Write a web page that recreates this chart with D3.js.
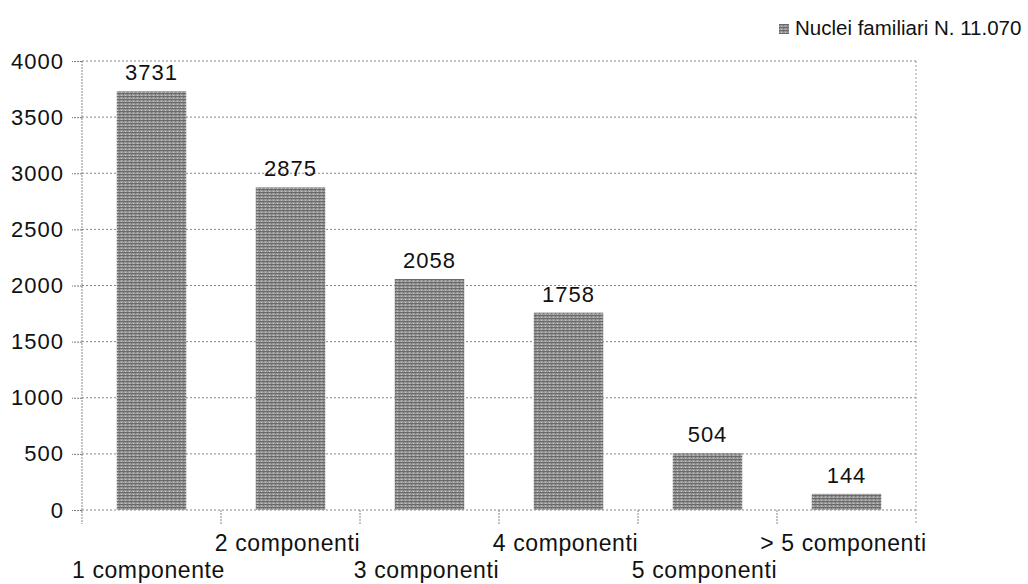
<!DOCTYPE html>
<html><head><meta charset="utf-8">
<script src="https://cdn.jsdelivr.net/npm/d3@7"></script>
<style>body{margin:0;background:#fff;} text{font-family:"Liberation Sans",Arial,sans-serif;fill:#111;}</style>
</head><body>
<svg id="c" width="1028" height="584"></svg>
<script>
const categories = ["1 componente","2 componenti","3 componenti","4 componenti","5 componenti","> 5 componenti"];
const values = [3731, 2875, 2058, 1758, 504, 144];
const yTicks = [0,500,1000,1500,2000,2500,3000,3500,4000];
const seriesName = "Nuclei familiari N. 11.070";

const svg = d3.select("#c");
const L = 82, R = 916, T = 61, B = 510;
const x = d3.scaleBand().domain(categories).range([L, R]).paddingInner(0.5).paddingOuter(0.25);
const y = d3.scaleLinear().domain([0, 4000]).range([B, T]);

const defs = svg.append("defs");
const pat = defs.append("pattern").attr("id","tex").attr("width",4).attr("height",3).attr("patternUnits","userSpaceOnUse");
pat.append("rect").attr("width",4).attr("height",3).attr("fill","#9a9a9a");
pat.append("rect").attr("y",0).attr("width",4).attr("height",1).attr("fill","#6a6a6a");
pat.append("rect").attr("x",1).attr("y",2).attr("width",1).attr("height",1).attr("fill","#c4c4c4");
pat.append("rect").attr("x",3).attr("y",1).attr("width",1).attr("height",1).attr("fill","#7a7a7a");

// grid
svg.append("g").selectAll("line").data(yTicks).join("line")
  .attr("x1", L).attr("x2", R).attr("y1", d=>y(d)).attr("y2", d=>y(d))
  .attr("stroke","#888").attr("stroke-width",1).attr("stroke-dasharray","2,2");
// right border
svg.append("line").attr("x1",R).attr("x2",R).attr("y1",T).attr("y2",B+14).attr("stroke","#999").attr("stroke-dasharray","2,2");

// y axis
const ya = svg.append("g").attr("transform",`translate(${L},0)`)
  .call(d3.axisLeft(y).tickValues(yTicks).tickSize(10).tickPadding(8).tickFormat(d3.format("d")));
ya.select(".domain").remove();
ya.selectAll("line").attr("stroke","#777").attr("stroke-dasharray","2,1");
ya.selectAll("text").style("font-size","22px").style("letter-spacing","1px").attr("fill","#111");
svg.append("line").attr("x1",L).attr("x2",L).attr("y1",T).attr("y2",B+14).attr("stroke","#888").attr("stroke-dasharray","2,1");

// category boundary ticks
svg.append("g").selectAll("line").data(categories.slice(1)).join("line")
  .attr("x1", d=>x(d)-(x.step()-x.bandwidth())/2).attr("x2", d=>x(d)-(x.step()-x.bandwidth())/2)
  .attr("y1", B).attr("y2", B+14).attr("stroke","#888").attr("stroke-dasharray","2,1");

// bars
svg.append("g").selectAll("rect").data(values).join("rect")
  .attr("x",(d,i)=>x(categories[i])).attr("width",x.bandwidth())
  .attr("y",d=>y(d)).attr("height",d=>B-y(d)).attr("fill","url(#tex)");

// value labels
svg.append("g").selectAll("text").data(values).join("text")
  .attr("x",(d,i)=>x(categories[i])+x.bandwidth()/2).attr("y",d=>y(d)-11)
  .attr("text-anchor","middle").style("font-size","22px").style("letter-spacing","1px").text(d=>d);

// category labels (staggered)
svg.append("g").selectAll("text").data(categories).join("text")
  .attr("x",d=>x(d)+x.bandwidth()/2 - 3).attr("y",(d,i)=> i%2===0 ? 578 : 551)
  .attr("text-anchor","middle").style("font-size","23px").style("letter-spacing","0.6px").text(d=>d);

// legend
svg.append("rect").attr("x",779).attr("y",24).attr("width",10).attr("height",10).attr("fill","url(#tex)");
svg.append("text").attr("x",795).attr("y",35).style("font-size","20.5px").text(seriesName);
</script>
</body></html>
